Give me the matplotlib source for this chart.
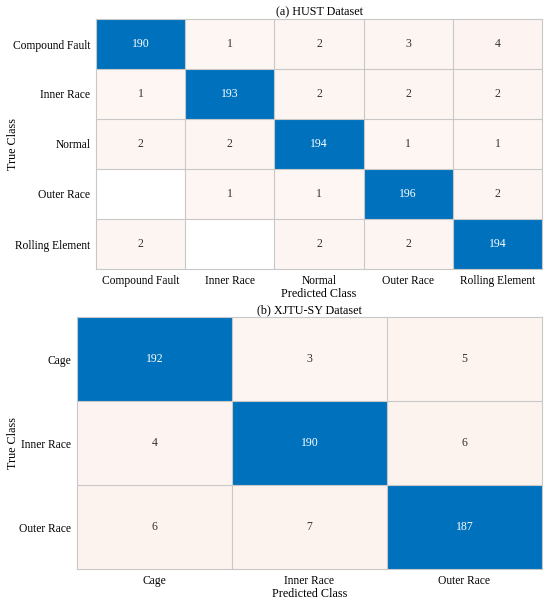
import numpy as np
import matplotlib
matplotlib.use("Agg")
import matplotlib.pyplot as plt

plt.rcParams['font.family'] = ['Liberation Serif', 'DejaVu Serif']

# (a) HUST dataset
hust_classes = ["Compound Fault", "Inner Race", "Normal", "Outer Race", "Rolling Element"]
hust_cm = [
    [190, 1, 2, 3, 4],
    [1, 193, 2, 2, 2],
    [2, 2, 194, 1, 1],
    [0, 1, 1, 196, 2],
    [2, 0, 2, 2, 194],
]

# (b) XJTU-SY dataset
xjtu_classes = ["Cage", "Inner Race", "Outer Race"]
xjtu_cm = [
    [192, 3, 5],
    [4, 190, 6],
    [6, 7, 187],
]

DIAG = np.array([0, 0.447, 0.741])
OFF = np.array([0.85, 0.325, 0.098])


def draw_cm(ax, cm, classes, title):
    cm = np.array(cm)
    n = len(classes)
    img = np.ones((n, n, 3))
    for i in range(n):
        for j in range(n):
            v = cm[i, j]
            if i == j:
                img[i, j] = DIAG
            elif v > 0:
                a = 0.05 + 0.003 * v
                img[i, j] = (1 - a) * np.ones(3) + a * OFF
            col = "white" if i == j else "#333333"
            if v > 0:
                ax.text(j, i, str(v), ha="center", va="center", fontsize=8.5, color=col)
    edges = np.arange(n + 1) - 0.5
    ax.pcolormesh(edges, edges, img, edgecolors="none", antialiased=False)
    for k in range(1, n):
        ax.axhline(k - 0.5, color="#c8c8c8", lw=0.8)
        ax.axvline(k - 0.5, color="#c8c8c8", lw=0.8)
    ax.set_xlim(-0.5, n - 0.5)
    ax.set_ylim(n - 0.5, -0.5)
    for s in ax.spines.values():
        s.set_color("#c8c8c8")
        s.set_linewidth(0.8)
    ax.set_xticks(range(n))
    ax.set_xticklabels(classes, fontsize=8.3)
    ax.set_yticks(range(n))
    ax.set_yticklabels(classes, fontsize=8.3)
    ax.tick_params(length=0, pad=4)
    ax.set_title(title, fontsize=8.7, pad=3)
    ax.set_xlabel("Predicted Class", fontsize=8.7, labelpad=1)
    ax.set_ylabel("True Class", fontsize=8.7)


fig = plt.figure(figsize=(5.5, 6.05), dpi=100)
ax1 = fig.add_axes([96 / 550, 1 - 269 / 605, 446 / 550, 250 / 605])
ax2 = fig.add_axes([77 / 550, 1 - 569 / 605, 465 / 550, 252 / 605])

draw_cm(ax1, hust_cm, hust_classes, "(a) HUST Dataset")
draw_cm(ax2, xjtu_cm, xjtu_classes, "(b) XJTU-SY Dataset")
ax1.yaxis.set_label_coords(-0.173, 0.5)
ax2.yaxis.set_label_coords(-0.125, 0.5)

fig.savefig("out.png", dpi=100)
